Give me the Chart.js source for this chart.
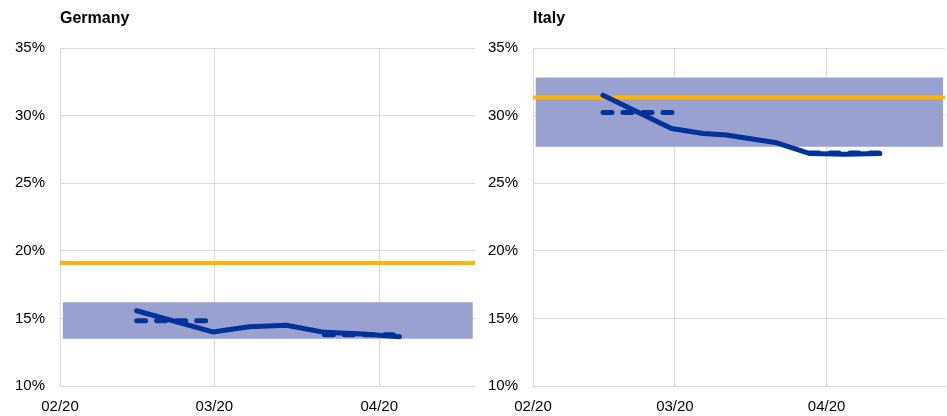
<!DOCTYPE html>
<html>
<head>
<meta charset="utf-8">
<script src="https://cdn.jsdelivr.net/npm/chart.js@4/dist/chart.umd.min.js"></script>
<style>
  body { margin: 0; background: #fff; }
  #wrap { position: relative; width: 947px; height: 416px; overflow: hidden; }
  canvas { position: absolute; top: 0; }
</style>
</head>
<body>
<div id="wrap">
  <canvas id="germany" width="478" height="428" style="left:0"></canvas>
  <canvas id="italy" width="474" height="428" style="left:473px"></canvas>
</div>
<script>
// x values are days since 1 Feb 2020
var xTickDays = [0, 29, 60];
var xTickLabels = ['02/20', '03/20', '04/20'];
var yTicks = [10, 15, 20, 25, 30, 35];

// Germany
var deDays = [14.4, 28.7, 35.6, 42.5, 49.7, 57, 63.8];
var deValues = [15.57, 14.0, 14.38, 14.5, 13.97, 13.85, 13.64];
var deDashDays = [14.4, 28.7, null, 49.7, 63.8];
var deDashValues = [14.83, 14.83, null, 13.8, 13.8];
var deYellow = 19.1;
var deBandTop = 16.2;
var deBandBottom = 13.5;
var deXMax = 78;

// Italy
var itDays = [14.3, 28.3, 34.8, 39.5, 49.8, 56.6, 63.7, 70.9];
var itValues = [31.52, 29.06, 28.69, 28.57, 28.0, 27.2, 27.15, 27.2];
var itDashDays = [14.3, 28.8, null, 56.6, 70.9];
var itDashValues = [30.24, 30.24, null, 27.25, 27.25];
var itYellow = 31.35;
var itBandTop = 32.83;
var itBandBottom = 27.7;
var itXMax = 84.2;

var BLUE = '#003299';
var YELLOW = '#ffb400';
var BAND = '#99a1d1';
var GRID = '#d9d9d9';

Chart.defaults.font.family = '"Liberation Sans", Arial, sans-serif';
Chart.defaults.color = '#000';

function pts(xs, ys) {
    return xs.map(function (x, i) { return { x: x === null ? (xs[i - 1] + xs[i + 1]) / 2 : x, y: ys[i] }; });
}

function makePanel(canvasId, title, days, values, dashDays, dashValues, yellow, bandTop, bandBottom, xMax, padRight) {
    var ctx = document.getElementById(canvasId).getContext('2d');
    return new Chart(ctx, {
        type: 'line',
        data: {
            datasets: [
                { data: pts(days, values), borderColor: BLUE, borderWidth: 5, borderCapStyle: 'round', borderJoinStyle: 'round', order: 0 },
                { data: pts(dashDays, dashValues), borderColor: BLUE, borderWidth: 5, borderDash: [9, 11], borderCapStyle: 'round', spanGaps: false, order: 1 },
                { data: [{ x: 0, y: yellow }, { x: xMax, y: yellow }], borderColor: YELLOW, borderWidth: 4, order: 2 },
                { data: [{ x: 0.5, y: bandTop }, { x: xMax - 0.4, y: bandTop }], borderWidth: 0, borderColor: 'transparent', order: 3 },
                { data: [{ x: 0.5, y: bandBottom }, { x: xMax - 0.4, y: bandBottom }], borderWidth: 0, borderColor: 'transparent', backgroundColor: BAND, fill: '-1', order: 3 }
            ]
        },
        options: {
            responsive: false,
            animation: false,
            devicePixelRatio: 1,
            layout: { padding: { top: 0, left: 0, right: padRight, bottom: 0 } },
            elements: { point: { radius: 0 }, line: { tension: 0 } },
            plugins: {
                legend: { display: false },
                tooltip: { enabled: false },
                title: {
                    display: true, text: title, align: 'start', fullSize: false,
                    font: { size: 16, weight: 'bold' }, color: '#000',
                    padding: { top: 9, bottom: 20 }
                }
            },
            scales: {
                x: {
                    type: 'linear', min: 0, max: xMax,
                    grid: { color: GRID, drawTicks: false },
                    border: { color: GRID },
                    afterBuildTicks: function (axis) { axis.ticks = xTickDays.map(function (v) { return { value: v }; }); },
                    ticks: {
                        padding: 12, maxRotation: 0, autoSkip: false,
                        font: { size: 15 },
                        callback: function (v) { var i = xTickDays.indexOf(v); return i >= 0 ? xTickLabels[i] : ''; }
                    }
                },
                y: {
                    min: yTicks[0], max: yTicks[yTicks.length - 1],
                    grid: { color: GRID, drawTicks: false },
                    border: { color: GRID },
                    afterBuildTicks: function (axis) { axis.ticks = yTicks.map(function (v) { return { value: v }; }); },
                    ticks: { padding: 15, font: { size: 15 }, callback: function (v) { return v + '%'; } }
                }
            }
        }
    });
}

makePanel('germany', 'Germany', deDays, deValues, deDashDays, deDashValues, deYellow, deBandTop, deBandBottom, deXMax, 3);
makePanel('italy', 'Italy', itDays, itValues, itDashDays, itDashValues, itYellow, itBandTop, itBandBottom, itXMax, 2);
</script>
</body>
</html>
